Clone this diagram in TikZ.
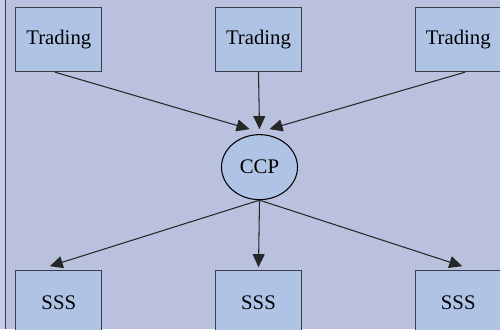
\documentclass[tikz,border=0pt]{standalone}
\usepackage{fontspec}
\setmainfont{Liberation Serif}
\usetikzlibrary{shapes.geometric, arrows.meta, positioning}

\definecolor{panelbg}{HTML}{B9C1DF}
\definecolor{stripbg}{HTML}{C9CDE8}
\definecolor{boxfill}{HTML}{AFC3E5}
\definecolor{boxline}{HTML}{3A3C48}

\begin{document}
\begin{tikzpicture}[
    % Define standard styles for the diagram components
    node distance=2.25cm,
    boxnode/.style={
        rectangle,
        draw=boxline,
        fill=boxfill,
        line width=0.7pt,
        minimum width=1.72cm,
        minimum height=1.28cm,
        inner sep=0pt,
        font=\fontsize{11.8}{14}\selectfont
    },
    hubnode/.style={
        ellipse,
        draw=black,
        fill=boxfill,
        line width=0.6pt,
        minimum width=1.52cm,
        minimum height=1.3cm,
        inner sep=0pt,
        font=\fontsize{11.8}{14}\selectfont
    },
    arrow/.style={
        -{Triangle[length=2.6mm, width=2.4mm]},
        line width=0.6pt,
        draw=black!85
    }
]

% --- Background ---
\clip (0,0) rectangle (10,-6.58);
\fill[panelbg] (0,0) rectangle (10,-6.58);
\fill[stripbg] (0,0) rectangle (0.11,-6.58);
\draw[boxline, line width=0.7pt] (0.11,0) -- (0.11,-6.58);

% --- Nodes ---

% Trading row
\node[boxnode] (trading2) at (5.17,-0.79) {Trading};
\node[boxnode, left=of trading2] (trading1) {Trading};
\node[boxnode, right=of trading2] (trading3) {Trading};

% Central counterparty
\node[hubnode, below=1.24cm of trading2, xshift=0.02cm] (ccp) {CCP};

% Settlement row
\node[boxnode, below=1.4cm of ccp, xshift=-0.02cm] (sss2) {SSS};
\node[boxnode, left=of sss2] (sss1) {SSS};
\node[boxnode, right=of sss2] (sss3) {SSS};

% --- Connections ---
\draw[arrow] ([xshift=-0.08cm]trading1.south) -- ([xshift=-0.2cm, yshift=0.1cm]ccp.north);
\draw[arrow] (trading2.south) -- ([yshift=0.1cm]ccp.north);
\draw[arrow] ([xshift=0.14cm]trading3.south) -- ([xshift=0.2cm, yshift=0.1cm]ccp.north);

\draw[arrow] (ccp.south) -- ([xshift=-0.18cm, yshift=0.08cm]sss1.north);
\draw[arrow] (ccp.south) -- ([yshift=0.06cm]sss2.north);
\draw[arrow] (ccp.south) -- ([xshift=0.08cm, yshift=0.08cm]sss3.north);

\end{tikzpicture}
\end{document}
